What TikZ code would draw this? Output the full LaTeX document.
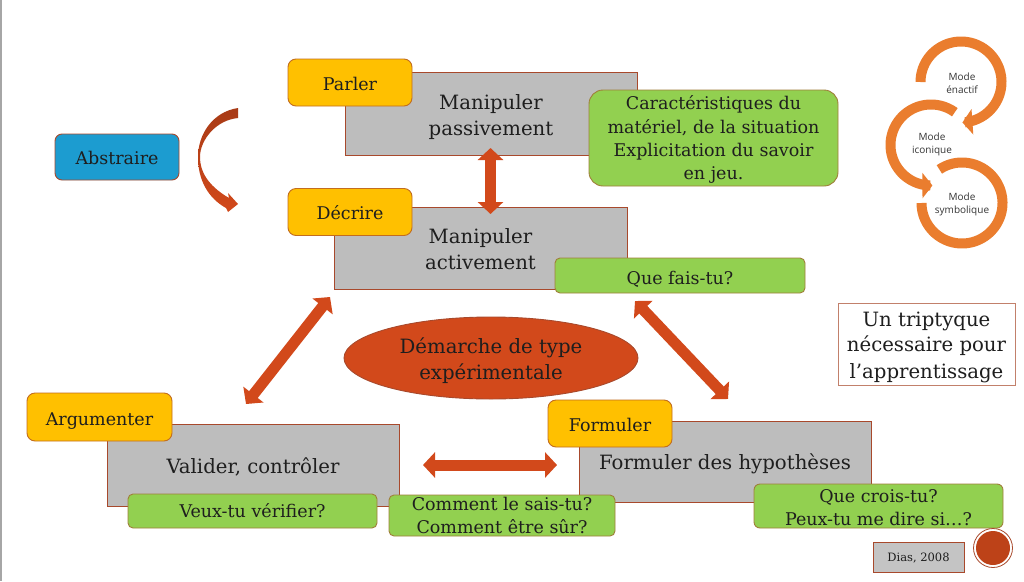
\documentclass[tikz,border=0pt]{standalone}
\usepackage{fontspec}
\setmainfont{DejaVu Serif}
\newfontfamily\iconfont{Open Sans}
\usetikzlibrary{arrows.meta,shapes.geometric,positioning}
\definecolor{graybox}{HTML}{BDBDBD}
\definecolor{rustline}{HTML}{A8492C}
\definecolor{goldbox}{HTML}{FFC000}
\definecolor{greenbox}{HTML}{92D050}
\definecolor{bluebox}{HTML}{1C9CD0}
\definecolor{rust}{HTML}{D2491B}
\definecolor{iconorange}{HTML}{EA7D2E}
\definecolor{ink}{HTML}{1E1E1E}
\newcommand{\txt}{\fontsize{17.5}{23.7}\selectfont}
\newcommand{\txtbig}{\fontsize{19.7}{26}\selectfont}
\newcommand{\dn}[2]{\raisebox{-#1pt}[\height][\depth]{#2}}
\tikzset{
  every node/.style={text=ink,inner sep=0pt,align=center},
  grayrect/.style={draw=rustline,line width=0.9pt,fill=graybox,minimum width=#1,font=\txtbig},
  goldrect/.style={draw=rustline!70!goldbox,line width=0.9pt,fill=goldbox,rounded corners=8pt,minimum height=47pt,minimum width=#1,font=\txt},
  greenrect/.style={draw=rustline!60!greenbox,line width=0.9pt,fill=greenbox,rounded corners=8pt,minimum width=#1,font=\txt},
  dblarrow/.style={draw=rust,line width=11pt,{Triangle[length=12pt,width=25pt]}-{Triangle[length=12pt,width=25pt]},color=rust},
  iconarc/.style={draw=iconorange,line width=10pt,-{Triangle[length=10pt,width=25pt]}},
  iconarcplain/.style={draw=iconorange,line width=10pt},
  iconlabel/.style={font=\iconfont\fontsize{10}{13}\selectfont,text=ink!90},
}
\begin{document}
\begin{tikzpicture}[x=1pt,y=-1pt]
\useasboundingbox (0,0) rectangle (1024,581);
\fill[white] (0,0) rectangle (1024,581);
\fill[gray!70] (0,0) rectangle (2,581);

% gray boxes
\node[grayrect=292pt,minimum height=83pt] (g1) at (491,113.5) {\dn{4}{Manipuler}\\\dn{4}{passivement}};
\node[grayrect=293pt,minimum height=82pt] (g2) at (480.5,248) {\dn{1}{Manipuler}\\\dn{1}{activement}};
\node[grayrect=292pt,minimum height=82pt] (g3) at (253,465) {\dn{2}{Valider, contrôler}};
\node[grayrect=292pt,minimum height=81pt] (g4) at (725,461.5) {\dn{2}{Formuler des hypothèses}};

% connectors
\coordinate (a1s) at (490.5,148);
\coordinate (a1e) at (490.5,214);
\draw[dblarrow] (a1s) -- (a1e);
\coordinate (a2s) at (330,297);
\coordinate (a2e) at (246,404);
\draw[dblarrow] (a2s) -- (a2e);
\coordinate (a3s) at (635,301);
\coordinate (a3e) at (728,399);
\draw[dblarrow] (a3s) -- (a3e);
\coordinate (a4s) at (423,465);
\coordinate (a4e) at (557,465);
\draw[dblarrow] (a4s) -- (a4e);

% gold tabs
\node[goldrect=124pt] (parler) at (350,82.5) {\dn{1}{Parler}};
\node[goldrect=124pt] (decrire) at (350,212) {\dn{1}{Décrire}};
\node[goldrect=145pt,minimum height=48pt] (argu) at (99.5,417) {\dn{4}{Argumenter}};
\node[goldrect=124pt] (form) at (610,423.5) {\dn{1}{Formuler}};

% green boxes
\node[greenrect=249pt,minimum height=96pt,rounded corners=14pt] (gr1) at (713.5,138) {\dn{2}{Caractéristiques du}\\\dn{2}{matériel, de la situation}\\\dn{2}{Explicitation du savoir}\\\dn{1}{en jeu.}};
\node[greenrect=250pt,minimum height=35pt,rounded corners=5pt] (gr2) at (680,275.5) {\dn{4}{Que fais-tu?}};
\node[greenrect=249pt,minimum height=34pt,rounded corners=5pt] (gr3) at (252.5,511) {Veux-tu vérifier?};
\node[greenrect=226pt,minimum height=41pt,rounded corners=5pt] (gr4) at (502,515.5) {Comment le sais-tu?\\Comment être sûr?};
\node[greenrect=249pt,minimum height=44pt,rounded corners=6pt] (gr5) at (878.5,506) {\dn{2}{Que crois-tu?}\\\dn{1}{Peux-tu me dire si…?}};

% abstraire + curved arrow
\node[draw=rustline,line width=0.9pt,fill=bluebox,rounded corners=7pt,minimum width=124pt,minimum height=46pt,font=\txt] (abs) at (117,157) {\dn{1}{Abstraire}};
\shade[top color=rust!80!black,bottom color=rust,shading angle=0]
  (238,108) .. controls (212,112) and (198,135) .. (198,157)
  .. controls (198,180) and (208,198) .. (226,208)
  -- (228,212) -- (238,204) -- (228,193) -- (229,198)
  .. controls (212,188) and (200,175) .. (200,157)
  .. controls (200,140) and (216,120) .. (238,118) -- cycle;

% ellipse
\node[ellipse,draw=rustline,line width=0.9pt,fill=rust,minimum width=294pt,minimum height=82pt,font=\txtbig] (dem) at (491,358) {\dn{3}{Démarche de type}\\\dn{3}{expérimentale}};

% triptyque
\node[draw=rustline!70,line width=0.9pt,fill=white,minimum width=177pt,minimum height=82pt,font=\txtbig] (trip) at (926.5,344) {\dn{3}{Un triptyque}\\\dn{2}{nécessaire pour}\\\dn{3}{l’apprentissage}};

% citation
\node[draw=rustline,line width=0.9pt,fill=graybox!90!white,minimum width=91pt,minimum height=30pt,font=\fontsize{11.5}{14}\selectfont] (dias) at (918.5,557) {\dn{1}{Dias, 2008}};
\node[circle,draw=rustline,line width=0.8pt,fill=white,minimum size=39pt] (seal) at (993,548) {};
\node[circle,fill=rust!90!black,minimum size=34pt] (sealin) at (seal) {};

% cycle icon
\draw[iconarc] plot[domain=180:-88,samples=70] ({961+40.5*cos(\x)},{82-40.5*sin(\x)});
\draw[iconarc] plot[domain=54:272,samples=70] ({931+40.5*cos(\x)},{145-40.5*sin(\x)});
\draw[iconarcplain] plot[domain=124:-180,samples=90] ({962+40.5*cos(\x)},{203-40.5*sin(\x)});
\node[iconlabel] (m1) at (962,83) {Mode\\énactif};
\node[iconlabel] (m2) at (932,144) {Mode\\iconique};
\node[iconlabel] (m3) at (962,204) {Mode\\symbolique};
\end{tikzpicture}
\end{document}
